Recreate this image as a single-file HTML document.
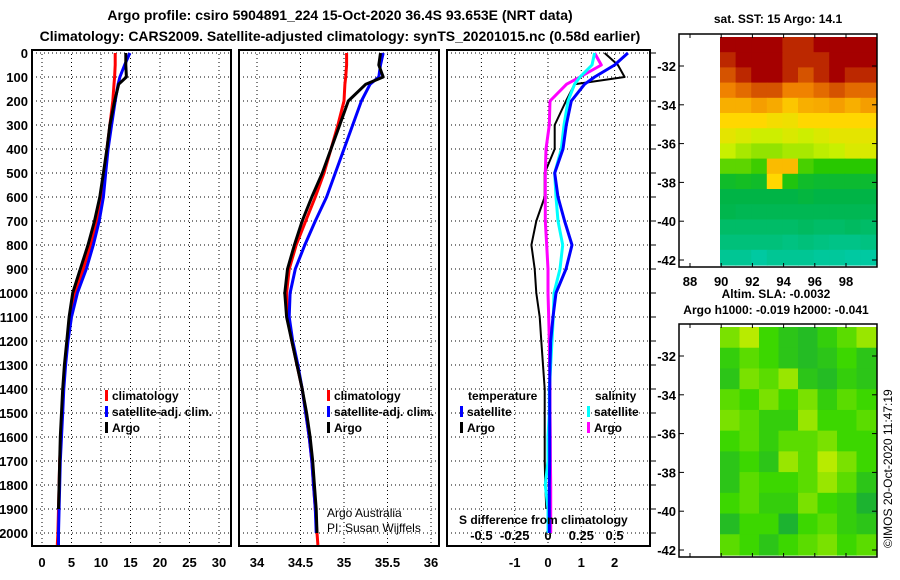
<!DOCTYPE html>
<html><head><meta charset="utf-8">
<style>
body{margin:0;background:#fff;width:900px;height:580px;overflow:hidden}
svg{display:block}
text{font-family:"Liberation Sans",sans-serif;fill:#000}
.b{font-weight:bold;font-size:13px}
.t{font-weight:bold;font-size:14px}
.l{font-weight:bold;font-size:12px}
</style></head><body>
<svg id="c" width="900" height="580"></svg>
<script>
const depths=[0,50,100,130,200,300,400,500,600,700,800,900,1000,1100,1200,1300,1400,1500,1600,1700,1800,1900,2000,2050];
const tClim=[12.4,12.4,12.3,12.2,12.0,11.5,11.0,10.6,10.1,9.3,8.2,7.0,5.6,4.8,4.3,3.9,3.6,3.4,3.2,3.0,2.9,2.8,2.7,2.6];
const tSat=[14.9,14.0,13.2,12.9,12.4,11.8,11.2,10.8,10.4,9.7,8.7,7.5,6.0,5.0,4.4,4.0,3.7,3.5,3.3,3.1,3.0,2.9,2.8,2.8];
const tArgo=[14.2,14.2,14.3,13.0,12.3,11.5,11.0,10.4,9.8,8.9,7.8,6.5,5.2,4.6,4.2,3.8,3.5,3.3,3.1,3.0,2.9,2.8,null,null];
const sClim=[35.03,35.03,35.02,35.01,35.0,34.93,34.85,34.77,34.67,34.56,34.45,34.37,34.34,34.35,34.40,34.46,34.52,34.56,34.60,34.63,34.65,34.67,34.69,34.70];
const sSat=[35.45,35.42,35.4,35.3,35.2,35.1,35.0,34.9,34.8,34.67,34.55,34.44,34.38,34.37,34.41,34.47,34.52,34.56,34.60,34.63,34.65,34.67,34.68,null];
const sArgo=[35.42,35.4,35.45,35.25,35.05,34.95,34.85,34.75,34.63,34.52,34.43,34.35,34.32,34.34,34.40,34.46,34.52,34.57,34.61,34.64,34.66,34.68,34.69,null];
const dTSat=[2.4,2.0,1.4,1.1,0.7,0.55,0.45,0.2,0.3,0.5,0.72,0.54,0.24,0.15,0.08,0.06,0.05,0.05,0.05,0.05,0.04,0.04,0.04,null];
const dTArgo=[1.7,2.1,2.3,0.8,0.54,0.2,0.2,-0.1,-0.1,-0.35,-0.5,-0.4,-0.35,-0.25,-0.2,-0.15,-0.1,-0.1,-0.1,-0.1,-0.08,-0.05,null,null];
const dSSat=[0.35,0.33,0.24,0.2,0.15,0.12,0.1,0.05,0.06,0.075,0.11,0.09,0.045,0.04,0.03,0.02,0.01,0.01,0.0,0.0,-0.02,0.0,0.0,null];
const dSArgo=[0.35,0.4,0.24,0.14,0.015,0.01,-0.015,-0.02,-0.02,-0.02,-0.01,0.0,0.0,0.005,0.01,0.012,0.015,0.015,0.017,0.018,0.02,0.02,0.02,null];
const depthTicks=[0,100,200,300,400,500,600,700,800,900,1000,1100,1200,1300,1400,1500,1600,1700,1800,1900,2000];
const tTicks=[0,5,10,15,20,25,30];
const sTicks=[34,34.5,35,35.5,36];
const dTicks=[-1,0,1,2];
const dGrid=[-2,-1,0,1,2];
const dsTicks=[-0.5,-0.25,0,0.25,0.5];
const sstGrid=[
[10,10,10,10,9,9,10,10,10,10],
[9,10,10,10,9,9,9,10,10,10],
[8,9,10,10,9,8,9,10,9,9],
[7,7.5,8,8,7,7,7.5,8,7.5,7.5],
[6.2,6.2,6.5,6.3,5.8,6.2,6.3,6.5,6.2,6.5],
[5.5,5.5,5.5,5.3,5.2,5.5,5.5,5.5,5.5,5.5],
[5,4.8,4.6,4.6,4.8,4.6,4.8,5,5,5],
[4.5,4.2,4,4,4.2,4.2,4.4,4.5,4.8,4.8],
[3.5,3.5,3.2,6,6,3.3,3,3,3,3],
[2.4,2.5,2.4,5.5,2.8,2.4,2.3,2.3,2.3,2.3],
[2,2,2,2,2,2.1,2,2,2,2],
[1.9,1.8,1.8,1.8,1.8,1.8,1.8,1.8,1.8,1.8],
[1.5,1.5,1.5,1.5,1.5,1.6,1.5,1.5,1.6,1.5],
[1.2,1.2,1.2,1.2,1.1,1.2,1.1,1.0,1.0,1.1],
[0.8,0.8,0.6,0.8,0.8,0.8,0.7,0.7,0.6,0.6]];
const slaGrid=[
[0.7,0.9,0.5,0.3,0.2,0.4,0.6,0.8],
[0.4,0.6,0.5,0.3,0.2,0.3,0.5,0.3],
[0.3,0.7,0.6,0.8,0.3,0.2,0.4,0.3],
[0.6,0.5,0.7,0.5,0.7,0.4,0.6,0.5],
[0.7,0.6,0.4,0.4,0.8,0.5,0.5,0.6],
[0.5,0.6,0.4,0.6,0.6,0.7,0.5,0.5],
[0.3,0.5,0.3,0.8,0.6,0.9,0.7,0.5],
[0.3,0.6,0.5,0.5,0.6,0.8,0.6,0.3],
[0.5,0.6,0.4,0.4,0.7,0.5,0.4,0.1],
[0.2,0.5,0.5,0.1,0.5,0.6,0.4,0.3],
[0.6,0.5,0.3,0.5,0.6,0.7,0.5,0.6]];

const NS='http://www.w3.org/2000/svg';
const svg=document.getElementById('c');
function el(tag,attrs,txt){const e=document.createElementNS(NS,tag);for(const k in attrs)e.setAttribute(k,attrs[k]);if(txt!==undefined)e.textContent=txt;svg.appendChild(e);return e;}
const Y=d=>53+d*0.24;
const xT=v=>42+v*5.9;
const xS=v=>257+(v-34)*87;
const xD=v=>548+v*33.3;
const xDS=v=>548+v*133.2;

function panel(name,x0,x1,gridXs){
  for(const d of depthTicks){const l=el('line',{x1:x0,x2:x1,y1:Y(d),y2:Y(d),stroke:'#000','stroke-dasharray':'1,3'});
  }
  for(const gx of gridXs){const l=el('line',{x1:gx,x2:gx,y1:50,y2:546,stroke:'#000','stroke-dasharray':'1,3'});
  }
  const r=el('rect',{x:x0,y:50,width:x1-x0,height:496,fill:'none',stroke:'#000','stroke-width':2});
  
}
function line(name,vals,fx,color,w){
  let pts=[];for(let i=0;i<depths.length;i++){if(vals[i]===null)continue;pts.push(fx(vals[i]).toFixed(1)+','+Y(depths[i]).toFixed(1));}
  const p=el('polyline',{points:pts.join(' '),fill:'none',stroke:color,'stroke-width':w||3,'stroke-linejoin':'round'});
  
}
panel('temp-panel',32,231,tTicks.map(xT));
panel('sal-panel',239,439,sTicks.map(xS));
panel('diff-panel',447,650,dGrid.map(xD));
for(const d of depthTicks){const t=el('text',{x:28,y:Y(d)+5,'text-anchor':'end',class:'b'},String(d));
}
for(const d of depthTicks){const l=el('line',{x1:650,x2:656,y1:Y(d),y2:Y(d),stroke:'#000'});
}
for(const v of tTicks){const t=el('text',{x:xT(v),y:567,'text-anchor':'middle',class:'b'},String(v));
}
for(const v of sTicks){const t=el('text',{x:xS(v),y:567,'text-anchor':'middle',class:'b'},String(v));
}
for(const v of dTicks){const t=el('text',{x:xD(v),y:567,'text-anchor':'middle',class:'b'},String(v));
}
for(const v of dsTicks){const t=el('text',{x:xDS(v),y:540,'text-anchor':'middle',class:'b'},String(v));
}
line('temp-climatology',tClim,xT,'#f00');
line('temp-satellite',tSat,xT,'#00f');
line('temp-argo',tArgo,xT,'#000');
line('sal-climatology',sClim,xS,'#f00');
line('sal-satellite',sSat,xS,'#00f');
line('sal-argo',sArgo,xS,'#000');
line('tdiff-argo',dTArgo,xD,'#000',2);
line('sdiff-argo',dSArgo,xDS,'#f0f');
line('sdiff-satellite',dSSat,xDS,'#0ff');
line('tdiff-satellite',dTSat,xD,'#00f');
function lerp(a,b,t){return a.map((v,i)=>Math.round(v+(b[i]-v)*t));}
const sstStops=[[0,[0,210,200]],[2,[0,180,70]],[3,[40,200,0]],[4.5,[200,240,0]],[5.5,[255,215,0]],[7,[240,130,0]],[8.5,[200,60,0]],[10,[165,0,0]]];
function sstCol(v){for(let i=1;i<sstStops.length;i++){if(v<=sstStops[i][0]){const a=sstStops[i-1],b=sstStops[i];const c=lerp(a[1],b[1],(v-a[0])/(b[0]-a[0]));return 'rgb('+c+')';}}return 'rgb(165,0,0)';}
function slaCol(v){const c=v<0.5?lerp([20,170,60],[60,215,0],v/0.5):lerp([60,215,0],[215,240,0],(v-0.5)/0.5);return 'rgb('+c+')';}
function map(name,grid,cf,x0,y0,w,h){
  const rows=grid.length,cols=grid[0].length;const cw=w/cols,ch=h/rows;
  for(let r=0;r<rows;r++)for(let c=0;c<cols;c++){
    const q=el('rect',{x:(x0+c*cw).toFixed(2),y:(y0+r*ch).toFixed(2),width:(cw+0.6).toFixed(2),height:(ch+0.6).toFixed(2),fill:cf(grid[r][c])});
    }
}
map('sst-map',sstGrid,sstCol,720,37,156,228);
map('sla-map',slaGrid,slaCol,720,327,156,228);
function mapFrame(name,y0,y1,latY){
  const r=el('rect',{x:679,y:y0,width:198,height:y1-y0,fill:'none',stroke:'#000','stroke-width':1.5});
  
  const lats=[-32,-34,-36,-38,-40,-42];
  lats.forEach((la,i)=>{const yy=latY+i*38.8;
    const t=el('text',{x:676,y:yy+5,'text-anchor':'end',class:'b'},String(la));
    
    const l=el('line',{x1:679,x2:684,y1:yy,y2:yy,stroke:'#000'});
    const l2=el('line',{x1:872,x2:877,y1:yy,y2:yy,stroke:'#000'});});
  [88,90,92,94,96,98].forEach(lo=>{const xx=690+(lo-88)*15.6;
    const a=el('line',{x1:xx,x2:xx,y1:y0,y2:y0+4,stroke:'#000'});
    const b=el('line',{x1:xx,x2:xx,y1:y1-4,y2:y1,stroke:'#000'});});
}
mapFrame('sst-map',34,267,66);
mapFrame('sla-map',324,557,356);
[88,90,92,94,96,98].forEach(lo=>{const t=el('text',{x:690+(lo-88)*15.6,y:286,'text-anchor':'middle',class:'b'},String(lo));
});
</script>
<svg width="900" height="580" style="position:absolute;left:0;top:0">
<text x="340" y="20" text-anchor="middle" class="t">Argo profile: csiro 5904891_224 15-Oct-2020 36.4S 93.653E (NRT data)</text>
<text x="340" y="41" text-anchor="middle" class="t">Climatology: CARS2009. Satellite-adjusted climatology: synTS_20201015.nc (0.58d earlier)</text>
<text x="778" y="23" text-anchor="middle" class="l">sat. SST: 15 Argo: 14.1</text>
<text x="776" y="298" text-anchor="middle" class="l">Altim. SLA: -0.0032</text>
<text x="776" y="314" text-anchor="middle" class="l">Argo h1000: -0.019 h2000: -0.041</text>
<text transform="translate(892,548) rotate(-90)" style="font-size:12px">©IMOS 20-Oct-2020 11:47:19</text>
<g>
<rect x="105" y="390" width="3" height="11" fill="#f00"/><text x="112" y="400" class="l">climatology</text>
<rect x="105" y="406" width="3" height="11" fill="#00f"/><text x="112" y="416" class="l">satellite-adj. clim.</text>
<rect x="105" y="422" width="3" height="11" fill="#000"/><text x="112" y="432" class="l">Argo</text>
</g>
<g>
<rect x="327" y="390" width="3" height="11" fill="#f00"/><text x="334" y="400" class="l">climatology</text>
<rect x="327" y="406" width="3" height="11" fill="#00f"/><text x="334" y="416" class="l">satellite-adj. clim.</text>
<rect x="327" y="422" width="3" height="11" fill="#000"/><text x="334" y="432" class="l">Argo</text>
</g>
<g>
<text x="468" y="400" class="l">temperature</text>
<rect x="460" y="406" width="3" height="11" fill="#00f"/><text x="467" y="416" class="l">satellite</text>
<rect x="460" y="422" width="3" height="11" fill="#000"/><text x="467" y="432" class="l">Argo</text>
<text x="595" y="400" class="l">salinity</text>
<rect x="587" y="406" width="3" height="11" fill="#0ff"/><text x="594" y="416" class="l">satellite</text>
<rect x="587" y="422" width="3" height="11" fill="#f0f"/><text x="594" y="432" class="l">Argo</text>
</g>
<text x="459" y="524" class="l">S difference from climatology</text>
<text x="327" y="517" style="font-size:12px">Argo Australia</text>
<text x="327" y="532" style="font-size:12px">PI: Susan Wijffels</text>
</svg>
</body></html>
